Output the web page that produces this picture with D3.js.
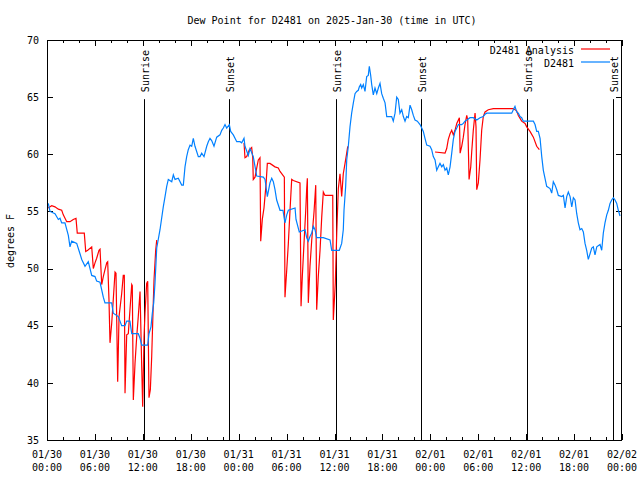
<!DOCTYPE html>
<html><head><meta charset="utf-8">
<script src="https://cdn.jsdelivr.net/npm/d3@7/dist/d3.min.js"></script>
<style>
body{margin:0;background:#fff}
svg{display:block}
text{font-family:"DejaVu Sans Mono","Liberation Mono",monospace;font-size:10px;fill:#000}
</style>
</head><body>
<svg id="chart" width="640" height="480"></svg>
<script>
// ---------- data ----------
const titleText = "Dew Point for D2481 on 2025-Jan-30 (time in UTC)";
const yLabelText = "degrees F";
const startTime = "2025-01-30T00:00:00Z";
const endTime = "2025-02-02T00:00:00Z";
const yTicks = [35, 40, 45, 50, 55, 60, 65, 70];
const seriesNames = ["D2481 Analysis", "D2481"];
const seriesColors = ["#ff0000", "#0080ff"];
// [label, hours since start]
const sunEvents = [["Sunrise", 12.15], ["Sunset", 22.83], ["Sunrise", 36.19], ["Sunset", 46.87], ["Sunrise", 60.15], ["Sunset", 70.91]];
// observed D2481: [hours since start, degrees F]
const observed = [[0.16,55.7],[0.38,55.0],[1.00,54.8],[1.42,54.3],[1.63,54.4],[1.84,54.0],[2.25,54.0],[2.67,52.9],[2.88,51.9],[3.09,52.4],[3.72,52.2],[4.13,51.3],[4.35,50.8],[4.76,50.2],[5.17,50.6],[5.60,49.4],[6.01,49.3],[6.22,48.9],[6.64,48.8],[7.05,47.5],[7.26,47.0],[8.10,47.0],[8.30,46.1],[8.93,45.8],[9.35,45.0],[9.77,45.0],[9.98,45.4],[10.39,45.4],[10.61,44.3],[11.43,44.3],[11.65,43.9],[11.86,43.3],[12.61,43.3],[12.77,44.3],[13.02,44.9],[13.19,46.1],[13.36,47.0],[13.52,48.7],[13.74,51.8],[14.15,53.4],[14.56,55.4],[14.78,56.3],[14.99,57.2],[15.19,57.8],[15.62,57.6],[15.82,58.2],[16.03,57.8],[16.44,57.9],[16.87,57.3],[17.07,57.3],[17.28,58.9],[17.49,59.8],[17.69,60.4],[17.91,60.8],[18.12,60.7],[18.32,61.4],[18.53,60.7],[18.95,59.8],[19.16,59.8],[19.37,60.1],[19.66,59.8],[20.00,60.7],[20.20,61.1],[20.41,61.4],[20.62,61.2],[20.91,60.7],[21.25,61.5],[21.66,61.7],[21.88,62.1],[22.08,62.3],[22.29,62.6],[22.50,62.3],[22.83,62.6],[23.00,62.0],[23.33,61.7],[23.76,61.1],[24.17,61.1],[24.38,61.0],[24.67,61.4],[24.79,60.7],[25.21,59.9],[25.42,60.5],[25.83,59.8],[26.26,58.1],[27.09,58.0],[27.30,57.8],[27.42,57.2],[27.59,56.3],[27.92,57.5],[28.14,57.9],[28.34,57.6],[28.55,56.9],[28.76,56.0],[29.18,55.1],[29.55,55.1],[29.80,54.0],[30.02,54.7],[30.22,55.1],[31.06,55.3],[31.18,54.3],[31.59,53.2],[32.31,53.4],[32.52,52.7],[32.72,52.4],[32.93,52.8],[33.15,53.1],[33.35,53.7],[33.56,53.4],[33.77,52.7],[34.60,52.7],[35.44,52.5],[35.65,51.6],[36.60,51.6],[36.90,52.2],[37.10,53.4],[37.19,55.1],[37.40,57.2],[37.53,59.5],[37.73,60.7],[37.94,62.4],[38.15,63.6],[38.36,64.5],[38.57,65.3],[38.78,65.5],[38.98,65.6],[39.11,65.9],[39.28,66.1],[39.41,65.8],[39.61,66.1],[39.82,65.5],[40.03,66.8],[40.23,66.9],[40.36,67.7],[40.53,66.9],[40.66,66.1],[40.86,65.2],[41.07,65.8],[41.29,65.3],[41.49,65.8],[41.70,66.2],[41.91,65.3],[42.11,64.9],[42.33,64.5],[42.54,63.3],[43.16,63.3],[43.36,62.9],[43.58,63.6],[43.79,65.0],[43.99,64.8],[44.20,63.6],[44.42,63.9],[44.62,63.3],[44.83,62.9],[45.04,63.3],[45.24,63.2],[45.46,64.3],[45.67,63.9],[45.87,63.4],[46.08,63.0],[46.37,62.9],[46.71,62.6],[46.92,62.3],[47.12,62.0],[47.33,61.4],[47.55,60.8],[47.96,60.7],[48.17,60.4],[48.37,59.8],[48.59,59.5],[48.80,58.6],[49.00,58.9],[49.21,59.2],[49.43,58.9],[49.63,59.1],[49.84,58.6],[50.05,58.8],[50.25,58.2],[50.47,58.9],[50.68,60.1],[50.88,61.3],[51.09,62.0],[51.31,62.3],[51.51,62.6],[51.93,62.6],[52.13,62.7],[52.34,62.9],[52.56,63.0],[52.97,63.2],[53.38,63.2],[53.81,63.0],[54.22,63.2],[54.63,63.3],[54.85,63.5],[55.06,63.6],[58.19,63.6],[58.39,63.9],[58.60,64.2],[58.81,63.7],[59.02,63.6],[59.23,63.3],[59.44,63.2],[59.64,62.9],[60.90,62.9],[61.11,62.6],[61.32,62.0],[61.52,62.0],[61.74,61.4],[61.95,59.8],[62.15,58.6],[62.36,57.9],[62.57,57.2],[62.99,57.0],[63.20,56.6],[63.40,57.6],[63.62,57.3],[63.83,56.9],[64.03,56.4],[64.46,56.3],[64.66,56.4],[64.87,55.3],[65.08,56.3],[65.28,56.7],[65.50,56.3],[65.71,55.4],[65.91,56.2],[66.12,56.0],[66.33,54.8],[66.53,54.0],[66.74,53.4],[66.96,53.5],[67.16,53.2],[67.37,52.2],[67.58,51.6],[67.78,50.8],[68.00,51.3],[68.21,51.8],[68.41,51.9],[68.62,51.2],[68.84,51.9],[69.25,52.1],[69.46,51.6],[69.66,53.1],[69.87,54.0],[70.09,54.7],[70.29,55.1],[70.50,55.7],[70.71,56.0],[70.92,56.2],[71.13,56.0],[71.34,55.7],[71.54,55.1],[71.75,54.6]];
// analysis D2481 (three separate stretches): [hours since start, degrees F]
const analysisPart1 = [[0.16,55.3],[0.38,55.4],[0.59,55.5],[1.00,55.4],[1.42,55.2],[1.84,55.1],[2.04,54.7],[2.47,54.1],[2.88,54.1],[3.29,54.3],[3.63,54.4],[3.79,53.1],[4.67,53.1],[4.85,51.5],[5.10,51.6],[5.60,51.9],[5.80,50.0],[6.01,50.5],[6.22,50.9],[6.51,51.6],[6.64,51.7],[6.85,48.6],[7.05,49.3],[7.26,49.9],[7.48,50.5],[7.60,50.6],[7.76,47.3],[7.89,43.5],[8.10,45.2],[8.30,47.3],[8.52,49.7],[8.64,49.6],[8.85,40.1],[9.02,45.8],[9.35,47.8],[9.55,49.4],[9.68,49.4],[9.77,39.1],[9.98,44.2],[10.18,44.3],[10.39,46.4],[10.61,48.6],[10.68,48.5],[10.81,38.5],[11.02,41.7],[11.23,44.0],[11.43,45.8],[11.65,48.0],[11.86,41.4],[11.98,37.9],[12.15,44.0],[12.27,46.1],[12.48,48.7],[12.61,48.9],[12.77,38.7],[12.94,39.4],[13.11,42.3],[13.31,47.0],[13.40,49.0],[13.61,51.6],[13.74,52.5]];
const analysisPart2 = [[24.67,61.0],[24.79,59.7],[25.01,59.8],[25.33,60.4],[25.63,60.6],[25.76,59.7],[25.83,57.8],[26.05,58.0],[26.26,58.8],[26.46,59.5],[26.67,59.7],[26.76,52.4],[26.96,54.3],[27.17,55.3],[27.42,57.3],[27.59,59.2],[27.92,59.2],[28.55,58.9],[28.96,58.8],[29.18,58.5],[29.72,58.0],[29.80,47.5],[30.02,49.9],[30.22,52.2],[30.43,55.1],[30.64,57.8],[30.84,57.7],[31.68,57.5],[31.81,46.7],[31.97,49.3],[32.18,52.2],[32.40,55.1],[32.52,57.0],[32.60,57.9],[32.72,47.0],[32.93,50.2],[33.15,52.5],[33.44,55.0],[33.65,57.3],[33.77,46.4],[33.97,49.3],[34.19,51.6],[34.40,54.5],[34.60,56.7],[34.81,56.4],[35.78,56.4],[35.85,45.5],[36.10,48.7],[36.28,53.1],[36.48,57.0],[36.69,58.3],[36.90,56.3],[37.10,58.3],[37.32,59.2],[37.53,60.1],[37.66,60.7]];
const analysisPart3 = [[48.59,60.2],[49.84,60.1],[50.05,60.5],[50.25,61.3],[50.47,61.8],[50.68,62.1],[50.88,61.7],[51.09,62.1],[51.31,62.7],[51.51,63.0],[51.64,63.2],[51.73,60.1],[51.93,60.7],[52.13,61.5],[52.34,62.6],[52.56,63.4],[52.68,63.0],[52.85,57.8],[53.06,58.9],[53.18,60.2],[53.38,62.1],[53.60,63.6],[53.72,62.4],[53.81,56.9],[54.01,57.5],[54.22,59.5],[54.43,62.1],[54.63,63.3],[54.85,63.7],[55.26,63.9],[55.89,64.0],[58.39,64.0],[58.81,63.8],[59.02,63.4],[59.44,62.9],[59.86,62.7],[60.07,62.4],[60.48,62.0],[60.90,61.5],[61.32,60.7],[61.65,60.4]];

// ---------- layout ----------
const W = 640, H = 480;
const margin = {left: 47, right: 18, top: 40, bottom: 40};
const svg = d3.select("#chart");
const t0 = new Date(startTime), t1 = new Date(endTime);
const toDate = h => new Date(t0.getTime() + h * 3600e3);

const x = d3.scaleUtc().domain([t0, t1]).range([margin.left, W - margin.right]);
const y = d3.scaleLinear().domain([35, 70]).range([H - margin.bottom, margin.top]);

const majorTicks = d3.utcHour.every(6).range(t0, new Date(t1.getTime() + 1));
const minorTicks = d3.utcHour.every(2).range(t0, new Date(t1.getTime() + 1)).filter(d => d.getUTCHours() % 6 !== 0);

// axes (ticks drawn inward, mirrored on all sides)
function addAxis(axis, transform) {
  const g = svg.append("g").attr("transform", transform).call(axis);
  g.select(".domain").remove();
  g.selectAll("line").attr("stroke", "#000").attr("shape-rendering", "crispEdges");
  return g;
}
addAxis(d3.axisBottom(x).tickValues(majorTicks).tickSize(-6).tickFormat(""), `translate(0,${H - margin.bottom})`);
addAxis(d3.axisBottom(x).tickValues(minorTicks).tickSize(-3).tickFormat(""), `translate(0,${H - margin.bottom})`);
addAxis(d3.axisTop(x).tickValues(majorTicks).tickSize(-6).tickFormat(""), `translate(0,${margin.top})`);
addAxis(d3.axisTop(x).tickValues(minorTicks).tickSize(-3).tickFormat(""), `translate(0,${margin.top})`);
const yl = addAxis(d3.axisLeft(y).tickValues(yTicks).tickSize(-6).tickPadding(8).tickFormat(d3.format("d")), `translate(${margin.left},0)`);
yl.selectAll("text").attr("font-family", null).attr("font-size", null).attr("fill", "#000");
addAxis(d3.axisRight(y).tickValues(yTicks).tickSize(-6).tickFormat(""), `translate(${W - margin.right},0)`);

// two-line x labels
const fmtDate = d3.utcFormat("%m/%d"), fmtTime = d3.utcFormat("%H:%M");
const xl = svg.append("g").selectAll("text").data(majorTicks).join("text")
  .attr("x", d => x(d)).attr("text-anchor", "middle");
xl.append("tspan").attr("x", d => x(d)).attr("y", H - margin.bottom + 14).attr("dominant-baseline", "central").text(fmtDate);
xl.append("tspan").attr("x", d => x(d)).attr("y", H - margin.bottom + 27).attr("dominant-baseline", "central").text(fmtTime);

// sunrise / sunset markers
const sun = svg.append("g");
sun.selectAll("line").data(sunEvents).join("line")
  .attr("x1", d => Math.round(x(toDate(d[1]))) + 0.5).attr("x2", d => Math.round(x(toDate(d[1]))) + 0.5)
  .attr("y1", y(65) + 2).attr("y2", y(35))
  .attr("stroke", "#000").attr("stroke-width", 1);
sun.selectAll("text").data(sunEvents).join("text")
  .attr("transform", d => `translate(${x(toDate(d[1])) + 1.5},${y(65) - 5}) rotate(-90)`)
  .attr("text-anchor", "start").attr("dominant-baseline", "central")
  .text(d => d[0]);

// series
const line = d3.line().x(d => x(toDate(d[0]))).y(d => y(d[1])).curve(d3.curveLinear);
const plot = svg.append("g");
[analysisPart1, analysisPart2, analysisPart3].forEach(part => {
  plot.append("path").datum(part).attr("d", line)
    .attr("fill", "none").attr("stroke", seriesColors[0]).attr("stroke-width", 1.2);
});
plot.append("path").datum(observed).attr("d", line)
  .attr("fill", "none").attr("stroke", seriesColors[1]).attr("stroke-width", 1.2);

// border
svg.append("rect").attr("x", margin.left + 0.5).attr("y", margin.top + 0.5)
  .attr("width", W - margin.left - margin.right - 1).attr("height", H - margin.top - margin.bottom)
  .attr("fill", "none").attr("stroke", "#000").attr("shape-rendering", "crispEdges");

// title and y label
svg.append("text").attr("x", 332).attr("y", 20).attr("text-anchor", "middle").attr("dominant-baseline", "central").text(titleText);
svg.append("text").attr("transform", `translate(10,${(margin.top + H - margin.bottom) / 2 + 1}) rotate(-90)`)
  .attr("text-anchor", "middle").attr("dominant-baseline", "central").text(yLabelText);

// legend
const lg = svg.append("g");
seriesNames.forEach((name, i) => {
  const ly = 50 + i * 13;
  lg.append("text").attr("x", 574).attr("y", ly).attr("text-anchor", "end").attr("dominant-baseline", "central").text(name);
  lg.append("line").attr("x1", 581).attr("x2", 610).attr("y1", ly - 1).attr("y2", ly - 1)
    .attr("stroke", seriesColors[i]).attr("stroke-width", 1.2);
});
</script>
</body></html>
